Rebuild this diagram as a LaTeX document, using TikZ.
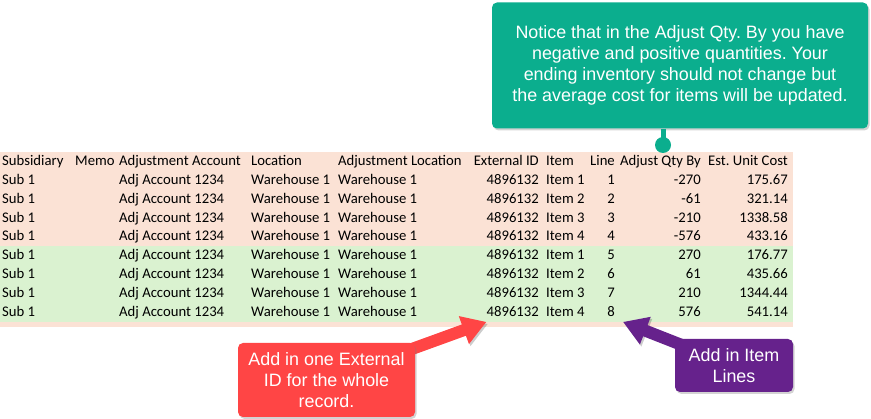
\documentclass[tikz,border=0pt]{standalone}
\usepackage{fontspec}
\setmainfont{Liberation Sans}
\newfontfamily\sheetfont{Carlito}
\usepackage{tikz}
\usetikzlibrary{positioning}
\usetikzlibrary{arrows.meta}
\usetikzlibrary{shadows}
\usetikzlibrary{backgrounds}
\frenchspacing

\definecolor{pinkrow}{HTML}{FBE2D5}
\definecolor{greenrow}{HTML}{DAF2D0}
\definecolor{notegreen}{HTML}{0BAE8E}
\definecolor{calloutred}{HTML}{FF4545}
\definecolor{calloutpurple}{HTML}{66228C}

\tikzset{
    cell/.style={inner sep=0pt, font=\sheetfont\fontsize{14.7}{17}\selectfont},
    lcell/.style={cell, anchor=base west},
    rcell/.style={cell, anchor=base east},
    callout/.style={rounded corners=5pt, text=white, align=center, inner sep=0pt,
        font=\fontsize{17.9}{21.2}\selectfont,
        drop shadow={opacity=0.35, shadow xshift=1.5pt, shadow yshift=-2pt}},
    blockarrow/.style={line width=12pt, -{Triangle[width=28pt,length=24pt]},
        preaction={draw=black, opacity=0.2, transform canvas={shift={(1.5pt,-2pt)}}}}
}

\begin{document}
\begin{tikzpicture}[x=1pt, y=-1pt]

    \useasboundingbox (0,0) rectangle (871,419);

    % Sheet background
    \begin{scope}[on background layer]
        \fill[pinkrow]  (0,151.7) rectangle (793,246.2);
        \fill[greenrow] (0,246.2) rectangle (793,321.7);
        \fill[pinkrow]  (0,321.7) rectangle (793,327);
    \end{scope}

    % Header row
    \node[lcell] (hsub)  at (2,165.4)   {Subsidiary};
    \node[lcell] (hmemo) at (75,165.4)  {Memo};
    \node[lcell] (hacc)  at (119,165.4) {Adjustment Account};
    \node[lcell] (hloc)  at (251,165.4) {Location};
    \node[lcell] (hadj)  at (338,165.4) {Adjustment Location};
    \node[rcell] (hext)  at (539,165.4) {External ID};
    \node[lcell] (hitem) at (546,165.4) {Item};
    \node[rcell] (hline) at (615,165.4) {Line};
    \node[rcell] (hqty)  at (701,165.4) {Adjust Qty By};
    \node[rcell] (hcost) at (788,165.4) {Est. Unit Cost};

    % Data rows
    \foreach \n/\it/\qty/\cost in {1/1/-270/175.67, 2/2/-61/321.14, 3/3/-210/1338.58,
        4/4/-576/433.16, 5/1/270/176.77, 6/2/61/435.66, 7/3/210/1344.44, 8/4/576/541.14} {
        \pgfmathsetmacro\yb{165.4+18.9*\n}
        \node[lcell] (sub\n)  at (2,\yb)   {Sub 1};
        \node[lcell] (acc\n)  at (119,\yb) {Adj Account 1234};
        \node[lcell] (loc\n)  at (251,\yb) {Warehouse 1};
        \node[lcell] (adj\n)  at (338,\yb) {Warehouse 1};
        \node[rcell] (ext\n)  at (539,\yb) {4896132};
        \node[lcell] (item\n) at (546,\yb) {Item \it};
        \node[rcell] (line\n) at (615,\yb) {\n};
        \node[rcell] (qty\n)  at (701,\yb) {\qty};
        \node[rcell] (cost\n) at (788,\yb) {\cost};
    }

    % Callouts
    \node[callout, fill=notegreen, minimum width=376pt, minimum height=126pt] (note) at (680,65.5)
        {Notice that in the Adjust Qty. By you have\\negative and positive quantities. Your\\ending inventory should not change but\\the average cost for items will be updated.};
    \node[callout, fill=calloutred, minimum width=177pt, minimum height=74pt] (extnote) at (326.5,380)
        {Add in one External\\ID for the whole\\record.};
    \node[callout, fill=calloutpurple, minimum width=118pt, minimum height=53pt] (linenote) at (734,365.5)
        {Add in Item\\Lines};
    \coordinate (pin) at (663,145);

    % Connect the callouts
    \draw[notegreen, line width=5pt] (pin |- note.south) -- (pin);
    \fill[notegreen] (pin) circle (8pt);
    \begin{scope}[on background layer]
        \draw[blockarrow, calloutred] (extnote.center) -- ([yshift=-5pt]ext8.south west);
        \draw[blockarrow, calloutpurple] (linenote.center) -- ([xshift=8pt,yshift=-5pt]line8.south east);
    \end{scope}

\end{tikzpicture}
\end{document}
